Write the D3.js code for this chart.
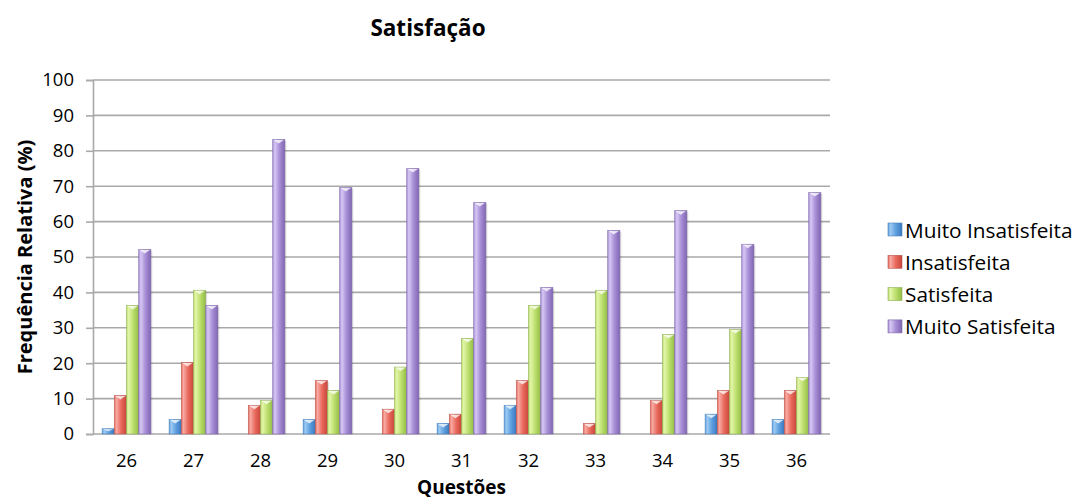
<!DOCTYPE html>
<html><head><meta charset="utf-8">
<script src="https://cdn.jsdelivr.net/npm/d3@7"></script>
<style>
body{margin:0;background:#fff;}
svg{display:block;font-family:"Open Sans",sans-serif;}
</style></head>
<body><svg id="c" width="1079" height="504"></svg>
<script>
const categories = ["26","27","28","29","30","31","32","33","34","35","36"];
const seriesNames = ["Muito Insatisfeita","Insatisfeita","Satisfeita","Muito Satisfeita"];
const muitoInsatisfeita = [1.5, 4.1, 0, 4.1, 0, 3.0, 8.1, 0, 0, 5.6, 4.1];
const insatisfeita      = [10.9, 20.2, 8.1, 15.1, 7.0, 5.6, 15.1, 3.0, 9.5, 12.3, 12.3];
const satisfeita        = [36.3, 40.6, 9.5, 12.3, 18.9, 27.0, 36.3, 40.6, 28.1, 29.5, 16.0];
const muitoSatisfeita   = [52.1, 36.3, 83.2, 69.6, 75.0, 65.4, 41.4, 57.5, 63.1, 53.6, 68.2];
const yTicks = [0,10,20,30,40,50,60,70,80,90,100];
const seriesValues = [muitoInsatisfeita, insatisfeita, satisfeita, muitoSatisfeita];

const colors = [
  {light:"#9ccaf2", mid:"#5fa0e0", dark:"#3b78bf", edge:"#4a7fb8"},
  {light:"#f7aaa2", mid:"#ea6a5e", dark:"#c8463a", edge:"#b85a52"},
  {light:"#e2f5a8", mid:"#bcdf6e", dark:"#93bc45", edge:"#8fae56"},
  {light:"#d6c8f4", mid:"#a88fd6", dark:"#8166b3", edge:"#7d68a8"}
];

const svg = d3.select("#c");
const L = 93, R = 830, T = 80, B = 434;
const x0 = d3.scaleBand().domain(categories).range([L, R]).paddingInner(0).paddingOuter(0);
const x1 = d3.scaleBand().domain(d3.range(4)).range([0, x0.bandwidth()]).paddingInner(0).paddingOuter(0.75);
const y = d3.scaleLinear().domain([0,100]).range([B, T]);

const defs = svg.append("defs");
colors.forEach((c,i)=>{
  const g = defs.append("linearGradient").attr("id","g"+i).attr("x1","0").attr("x2","1").attr("y1","0").attr("y2","0");
  g.append("stop").attr("offset","0%").attr("stop-color",c.mid);
  g.append("stop").attr("offset","18%").attr("stop-color",c.light);
  g.append("stop").attr("offset","55%").attr("stop-color",c.mid);
  g.append("stop").attr("offset","100%").attr("stop-color",c.dark);
});

// gridlines
svg.append("g").selectAll("line").data(yTicks).join("line")
  .attr("x1", L).attr("x2", R).attr("y1", d=>y(d)).attr("y2", d=>y(d))
  .attr("stroke", "#a9a9a9").attr("stroke-width", 1.6);

// y axis
const yAxis = d3.axisLeft(y).tickValues(yTicks).tickSize(7).tickPadding(12);
const ya = svg.append("g").attr("transform",`translate(${L},0)`).call(yAxis);
ya.select(".domain").attr("stroke","#a9a9a9").attr("stroke-width",1.6);
ya.selectAll(".tick line").attr("stroke","#a9a9a9").attr("stroke-width",1.6);
ya.selectAll(".tick text").attr("font-size",18.5).attr("font-family","Open Sans").attr("fill","#000");

// x axis
const xAxis = d3.axisBottom(x0).tickSize(0).tickPadding(20);
const xa = svg.append("g").attr("transform",`translate(0,${B})`).call(xAxis);
xa.select(".domain").remove();
xa.selectAll(".tick text").attr("font-size",18.5).attr("font-family","Open Sans").attr("fill","#000");

// bars
const data = [];
categories.forEach((c,ci)=>seriesValues.forEach((s,si)=>data.push({c, si, v:s[ci]})));
const bars = svg.append("g").selectAll("g").data(data.filter(d=>d.v>0)).join("g")
  .attr("transform", d=>`translate(${x0(d.c)+x1(d.si)},0)`);
const bw = x1.bandwidth();
bars.append("rect").attr("x",1.5).attr("y",d=>y(d.v)+1.5).attr("width",bw).attr("height",d=>B-y(d.v)-1.5)
  .attr("fill","#000").attr("opacity",0.12);
bars.append("rect").attr("x",0).attr("y",d=>y(d.v)).attr("width",bw).attr("height",d=>B-y(d.v))
  .attr("fill",d=>`url(#g${d.si})`).attr("stroke",d=>colors[d.si].edge).attr("stroke-width",0.7).attr("stroke-opacity",0.8);
bars.append("path")
  .attr("d", d=>{const t=y(d.v); const h=Math.min(4, (B-t)/2); return `M1,${t+0.5}L${bw-1},${t+0.5}L${bw/2},${t+h}Z`;})
  .attr("fill","#fff").attr("opacity",0.75);

// title
svg.append("text").attr("x",428).attr("y",36).attr("text-anchor","middle")
  .attr("font-size",22.5).attr("font-weight","bold").text("Satisfação");
// x title
svg.append("text").attr("x",(L+R)/2).attr("y",494).attr("text-anchor","middle")
  .attr("font-size",19).attr("font-weight","bold").text("Questões");
// y title
svg.append("text").attr("transform",`translate(32,${(T+B)/2}) rotate(-90)`).attr("text-anchor","middle")
  .attr("font-size",20).attr("font-weight","bold").text("Frequência Relativa (%)");

// legend
const lg = svg.append("g").selectAll("g").data(seriesNames).join("g")
  .attr("transform",(d,i)=>`translate(888,${232 + i*32.3})`);
lg.append("rect").attr("x",0).attr("y",-9).attr("width",14).attr("height",13)
  .attr("fill",(d,i)=>`url(#g${i})`).attr("stroke",(d,i)=>colors[i].edge).attr("stroke-width",0.6);
lg.append("text").attr("x",17).attr("y",5.5).attr("font-size",20.8).text(d=>d);
</script></body></html>
